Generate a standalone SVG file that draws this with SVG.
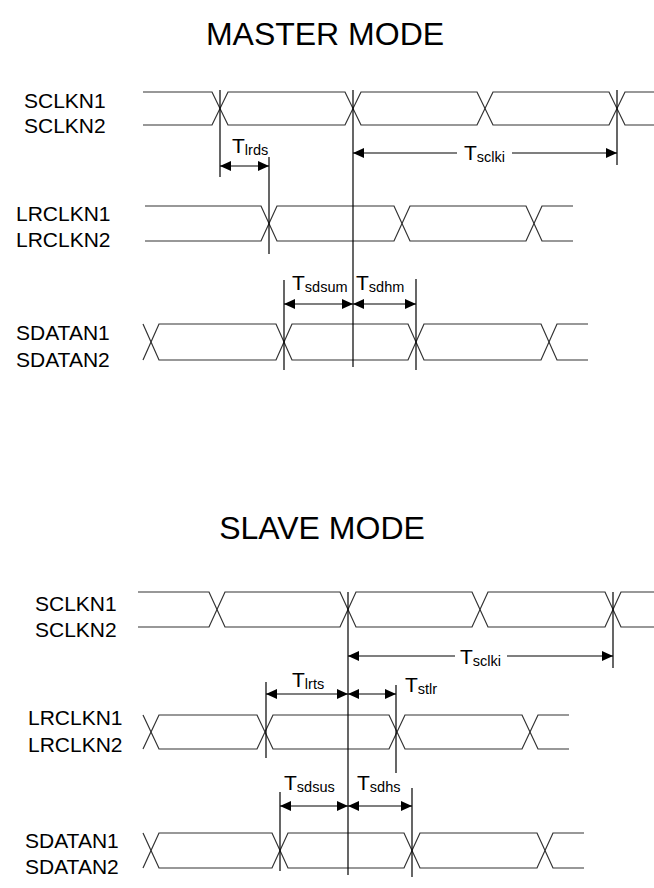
<svg xmlns="http://www.w3.org/2000/svg" width="654" height="888" viewBox="0 0 654 888">
<style>
  text { font-family: "Liberation Sans", Arial, sans-serif; fill: #000; }
  .title { font-size: 32px; text-anchor: middle; }
  .lbl { font-size: 21px; }
  .t { font-size: 21px; }
  .sub { font-size: 14.5px; }
  .sig { fill: none; stroke: #333; stroke-width: 1.2; }
  .v { fill: none; stroke: #000; stroke-width: 1.2; }
  .dim { fill: none; stroke: #000; stroke-width: 1.2; marker-start: url(#ah); marker-end: url(#ah); }
  .dimL { fill: none; stroke: #000; stroke-width: 1.2; marker-start: url(#ah); }
  .dimR { fill: none; stroke: #000; stroke-width: 1.2; marker-end: url(#ah); }
</style>
<defs>
  <marker id="ah" viewBox="0 0 11 10" refX="11" refY="5" markerWidth="11" markerHeight="10" markerUnits="userSpaceOnUse" orient="auto-start-reverse">
    <path d="M0,0 L11,5 L0,10 z" fill="#000"/>
  </marker>
</defs>
<rect width="654" height="888" fill="#fff"/>

<g id="master-title"><text class="title" x="325" y="45">MASTER MODE</text></g>
<g id="slave-title"><text class="title" x="322" y="539">SLAVE MODE</text></g>

<g id="m-sclk">
  <text class="lbl" x="24" y="108">SCLKN1</text>
  <text class="lbl" x="24" y="133">SCLKN2</text>
  <path class="sig" d="M143,92 H212 L228,125 H345 L361,92 H477 L493,125 H609 L625,92 H654"/>
  <path class="sig" d="M143,125 H212 L228,92 H345 L361,125 H477 L493,92 H609 L625,125 H654"/>
</g>
<g id="m-lrclk">
  <text class="lbl" x="16" y="221">LRCLKN1</text>
  <text class="lbl" x="16" y="247">LRCLKN2</text>
  <path class="sig" d="M145,206 H261 L277,241 H394 L410,206 H526 L542,241 H573"/>
  <path class="sig" d="M145,241 H261 L277,206 H394 L410,241 H526 L542,206 H573"/>
</g>
<g id="m-sdata">
  <text class="lbl" x="16" y="340">SDATAN1</text>
  <text class="lbl" x="16" y="367">SDATAN2</text>
  <path class="sig" d="M143,324 L159,360 H276 L292,324 H408 L424,360 H541 L557,324 H588"/>
  <path class="sig" d="M143,360 L159,324 H276 L292,360 H408 L424,324 H541 L557,360 H588"/>
</g>

<g id="s-sclk">
  <text class="lbl" x="35" y="611">SCLKN1</text>
  <text class="lbl" x="35" y="637">SCLKN2</text>
  <path class="sig" d="M138,592 H209 L225,627 H340 L356,592 H472 L488,627 H605 L621,592 H654"/>
  <path class="sig" d="M138,627 H209 L225,592 H340 L356,627 H472 L488,592 H605 L621,627 H654"/>
</g>
<g id="s-lrclk">
  <text class="lbl" x="28" y="725">LRCLKN1</text>
  <text class="lbl" x="28" y="752">LRCLKN2</text>
  <path class="sig" d="M143,715 L159,749 H257 L273,715 H389 L405,749 H522 L538,715 H569"/>
  <path class="sig" d="M143,749 L159,715 H257 L273,749 H389 L405,715 H522 L538,749 H569"/>
</g>
<g id="s-sdata">
  <text class="lbl" x="25" y="848">SDATAN1</text>
  <text class="lbl" x="25" y="874">SDATAN2</text>
  <path class="sig" d="M143,833 L159,868 H272 L288,833 H404 L420,868 H537 L553,833 H584"/>
  <path class="sig" d="M143,868 L159,833 H272 L288,868 H404 L420,833 H537 L553,868 H584"/>
</g>

<g id="connectors">
  <line class="v" x1="220" y1="90" x2="220" y2="177"/>
  <line class="v" x1="269" y1="157" x2="269" y2="254"/>
  <line class="v" x1="353" y1="90" x2="353" y2="367"/>
  <line class="v" x1="617" y1="90" x2="617" y2="165"/>
  <line class="v" x1="284" y1="280" x2="284" y2="370"/>
  <line class="v" x1="416" y1="279" x2="416" y2="370"/>
  <line class="dim" x1="220" y1="166" x2="269" y2="166"/>
  <line class="dimL" x1="353" y1="153" x2="457" y2="153"/>
  <line class="dimR" x1="512" y1="153" x2="617" y2="153"/>
  <line class="dim" x1="284" y1="304" x2="353" y2="304"/>
  <line class="dim" x1="353" y1="304" x2="416" y2="304"/>
  <line class="v" x1="348" y1="592" x2="348" y2="875"/>
  <line class="v" x1="613" y1="592" x2="613" y2="668"/>
  <line class="v" x1="266" y1="682" x2="266" y2="758"/>
  <line class="v" x1="396" y1="685" x2="396" y2="773"/>
  <line class="v" x1="280" y1="792" x2="280" y2="871"/>
  <line class="v" x1="412" y1="788" x2="412" y2="877"/>
  <line class="dimL" x1="348" y1="656" x2="455" y2="656"/>
  <line class="dimR" x1="507" y1="656" x2="613" y2="656"/>
  <line class="dim" x1="266" y1="694" x2="348" y2="694"/>
  <line class="dim" x1="348" y1="694" x2="396" y2="694"/>
  <line class="dim" x1="280" y1="806" x2="348" y2="806"/>
  <line class="dim" x1="348" y1="806" x2="412" y2="806"/>
</g>

<g id="timing-labels">
  <text class="t" x="232" y="153">T<tspan class="sub" dy="2">lrds</tspan></text>
  <text class="t" x="464" y="160">T<tspan class="sub" dy="2">sclki</tspan></text>
  <text class="t" x="292" y="290">T<tspan class="sub" dy="2">sdsum</tspan></text>
  <text class="t" x="356" y="290">T<tspan class="sub" dy="2">sdhm</tspan></text>
  <text class="t" x="460" y="664">T<tspan class="sub" dy="2">sclki</tspan></text>
  <text class="t" x="292" y="687">T<tspan class="sub" dy="2">lrts</tspan></text>
  <text class="t" x="405" y="692">T<tspan class="sub" dy="2">stlr</tspan></text>
  <text class="t" x="284" y="790">T<tspan class="sub" dy="2">sdsus</tspan></text>
  <text class="t" x="357" y="790">T<tspan class="sub" dy="2">sdhs</tspan></text>
</g>
</svg>
